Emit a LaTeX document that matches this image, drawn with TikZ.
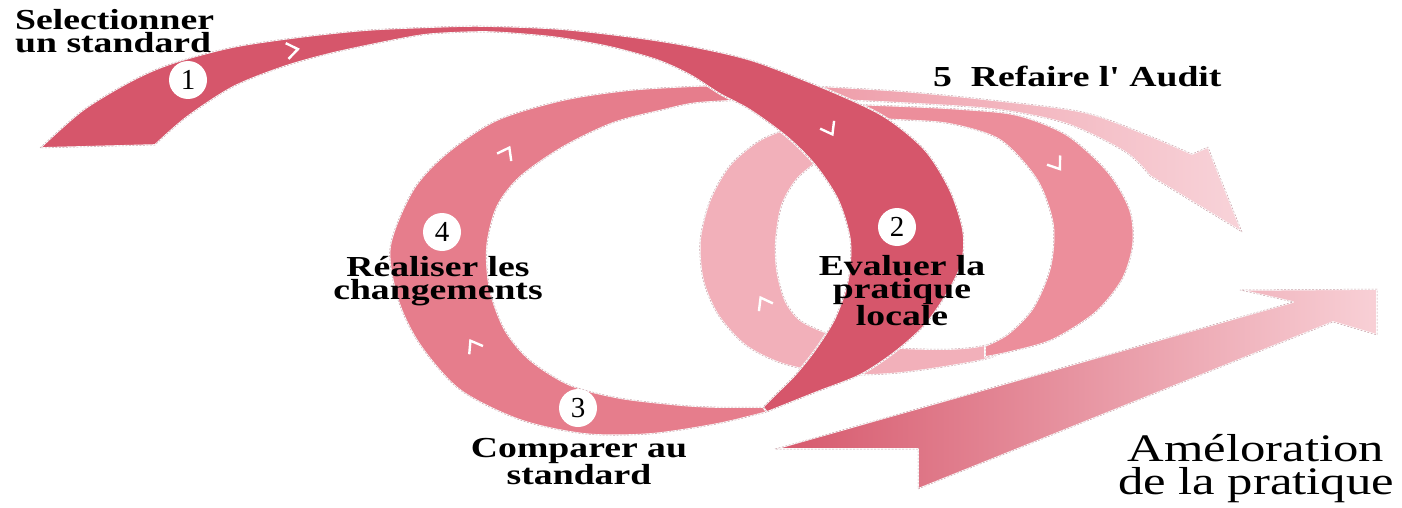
\documentclass[tikz,border=0pt]{standalone}
\usepackage{fontspec}
\setmainfont{Liberation Serif}
\newfontfamily\labfont{Liberation Serif}[FakeStretch=1.3]
\definecolor{cA}{HTML}{D6566B}
\definecolor{cB}{HTML}{E67D8C}
\definecolor{cR}{HTML}{EC8E9B}
\definecolor{cC}{HTML}{F2B0BA}
\definecolor{cDa}{HTML}{EE9DA9}
\definecolor{cDb}{HTML}{F8D3D9}
\definecolor{cEa}{HTML}{D6586C}
\definecolor{cEb}{HTML}{F8D0D6}
\definecolor{cEdge}{HTML}{C8A2A9}
\begin{document}
\begin{tikzpicture}[x=1pt,y=-1pt,
  band/.style={draw=white, line width=1.6pt, line join=round,
    postaction={draw=cEdge, fill=none, line width=0.5pt, dash pattern=on 2pt off 1.5pt}},
  lab/.style={font=\labfont\bfseries\fontsize{29}{23}\selectfont, inner sep=0pt, text=black},
  big/.style={font=\labfont\fontsize{39}{33}\selectfont, inner sep=0pt, text=black},
  numc/.style={circle, fill=white, inner sep=0pt, minimum size=38pt,
    font=\fontsize{29}{29}\selectfont},
  chev/.pic={\draw[white, line width=2.4pt, line join=miter, line cap=butt]
    (-6,-8) -- (5,0) -- (-6,8);}]
\useasboundingbox (0,0) rectangle (1402,508);
\fill[white] (0,0) rectangle (1402,508);

% lightest band ending in the "Refaire l'Audit" arrow
\path[band, left color=cDa, right color=cDb]
  plot[smooth] coordinates {(815,86) (900,91) (983,99) (1083,112) (1150,136) (1192,154)}
  -- (1208,147) -- (1242,232) -- (1150,176)
  -- plot[smooth] coordinates {(1150,176) (1125,152) (1067,124) (1000,110) (920,104) (820,99)}
  -- cycle;

% light loop
\path[band, fill=cC]
  plot[smooth] coordinates {(792,127) (760,140) (730,165) (710,200) (700,240) (703,280)
    (718,315) (745,345) (780,363) (820,372) (860,375) (900,373) (950,366) (990,358) (1025,342)}
  -- plot[smooth] coordinates {(1015,332) (985,345) (950,349) (900,348) (860,343) (827,333) (800,320)
    (785,300) (777,270) (776,240) (782,205) (798,178) (824,157)}
  -- cycle;

% medium right loop
\path[band, fill=cR]
  plot[smooth] coordinates {(845,104) (900,106) (960,109) (1017,115) (1067,135) (1108,172)
    (1130,210) (1133,245) (1122,280) (1095,313) (1052,340) (1010,352) (985,357)}
  -- plot[smooth] coordinates {(985,346) (1008,334) (1033,308) (1050,268) (1053,225) (1037,180)
    (1000,140) (950,124) (900,120) (850,118)}
  -- cycle;

% medium left loop
\path[band, fill=cB]
  plot[smooth] coordinates {(767,412) (717,424) (650,434) (585,434) (520,420) (460,390)
    (420,345) (398,300) (390,247) (413,190) (447,153) (497,120) (563,100) (630,90)
    (697,86) (745,85)}
  -- plot[smooth] coordinates {(750,100) (697,103) (663,110) (613,123) (563,147) (520,177)
    (497,207) (487,247) (490,290) (505,330) (530,360) (570,385) (620,398) (680,405)
    (717,407) (763,407)}
  -- cycle;

% dark first band
\path[band, fill=cA]
  plot[smooth] coordinates {(40,148) (83,110) (133,80) (173,63) (233,47) (300,37) (367,30)
    (433,27) (483,26) (560,29) (640,38) (700,48) (757,62) (833,92) (885,117) (925,150)
    (950,190) (963,230) (962,262) (948,292) (925,325) (895,352) (860,375) (817,392) (767,412)}
  -- plot[smooth] coordinates {(763,407) (777,393) (795,375) (815,350) (835,318) (848,280)
    (850,240) (838,200) (815,165) (787,137) (750,110) (720,94) (690,75) (657,60) (610,47)
    (560,38) (520,34) (483,32) (433,34) (400,39) (333,53) (283,67) (233,87) (187,117) (155,145)}
  -- cycle;

% improvement arrow
\path[band, left color=cEa, right color=cEb]
  (775,449) -- (1293,302) -- (1240,290) -- (1377,289) -- (1377,335) -- (1333,322)
  -- (918,489) -- (918,449) -- cycle;

% direction marks
\pic[rotate=10] at (293,50) {chev};
\pic[rotate=-61] at (830,130) {chev};
\pic[rotate=-55] at (1057,165) {chev};
\pic[rotate=62] at (507,152) {chev};
\pic[rotate=121] at (473,345) {chev};
\pic[rotate=119] at (763,302) {chev};

% numbered circles
\node[numc] (c1) at (188,80) {1};
\node[numc] (c2) at (897,227) {2};
\node[numc] (c3) at (578,408) {3};
\node[numc] (c4) at (442,232) {4};

% labels
\node[lab, anchor=north west, align=left] (t1) at (15,9) {Selectionner\\un standard};
\node[lab, anchor=north west] (t5) at (933,66) {5~~Refaire l' Audit};
\node[lab, anchor=north, align=center] (t2) at (902,255) {Evaluer la\\pratique\\locale};
\node[lab, anchor=north, align=center] (t4) at (438,256) {Réaliser les\\changements};
\node[lab, anchor=north, align=center] (t3) at (579,438) {Comparer au\\standard};
\node[big, anchor=north, align=center] (t6) at (1256,434) {Améloration\\de la pratique};
\end{tikzpicture}
\end{document}
